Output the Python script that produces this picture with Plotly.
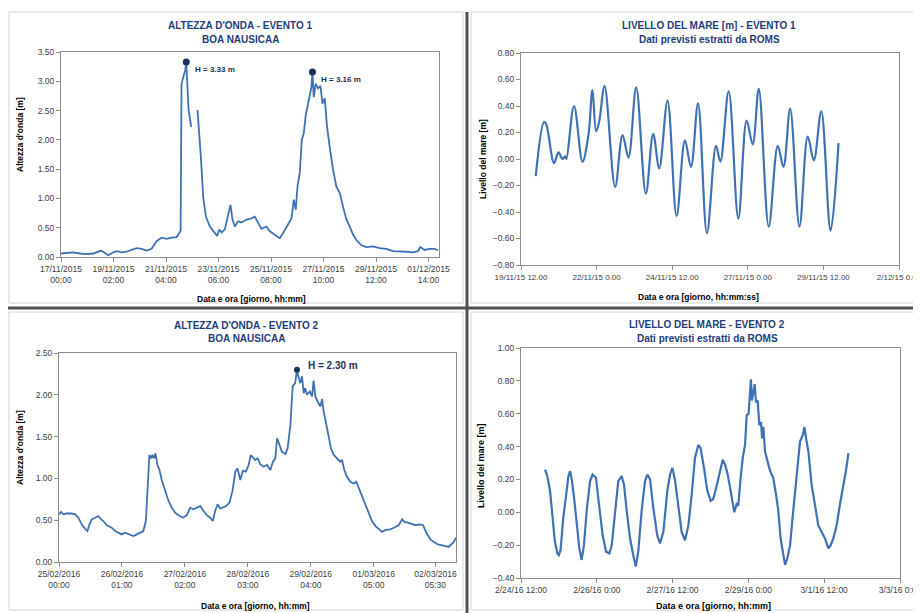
import pandas as pd
import plotly.graph_objects as go

# page body has an 8px margin, so the figure is drawn 8px in from the top-left
OFF = 8
W, H = 921 - OFF, 613 - OFF
FONT = "Liberation Sans Narrow, Liberation Sans, Arial"
LINE = "#3f72b5"
NAVY = "#1b2f5a"
TITLE = "#1f3d7a"

# ---- Evento 1: altezza d'onda, boa Nausicaa (ore dal 17/11/2015 00:00)
wave1_start = "2015-11-17 00:00"
wave1_hours = [0.0, 5.4, 11.7, 18.1, 24.4, 30.8, 35.5, 38.1, 41.9, 45.0, 49.8, 53.0, 57.7, 62.5,
               67.2, 72.0, 76.8, 81.5, 86.3, 91.0, 95.8, 100.5, 105.3, 110.1, 112.6, 113.9, 114.8,
               115.8, 117.0, 118.3, 119.3, 120.2, 121.5, 122.7, 124.0, 127.0, 130.0, 131.3, 133.2,
               135.4, 138.0, 141.8, 146.5, 148.7, 150.7, 152.9, 156.0, 159.2, 161.4, 163.3, 165.6,
               168.7, 171.9, 176.7, 181.4, 184.6, 187.8, 190.9, 195.7, 198.9, 203.6, 208.4, 211.5,
               216.3, 219.5, 221.7, 223.6, 225.2, 227.4, 229.3, 231.2, 233.1, 235.3, 236.9, 238.5,
               239.5, 240.7, 242.6, 244.8, 247.1, 249.0, 251.2, 253.4, 255.9, 259.1, 262.3, 265.5,
               268.6, 271.8, 275.0, 278.2, 281.3, 286.1, 290.8, 297.2, 303.5, 309.9, 316.2, 322.6,
               328.9, 335.2, 340.0, 342.2, 346.3, 351.1, 355.9, 359.0]
wave1_m = [0.06, 0.07, 0.08, 0.06, 0.05, 0.06, 0.09, 0.11, 0.07, 0.03, 0.08, 0.10, 0.08, 0.09,
           0.12, 0.15, 0.14, 0.11, 0.14, 0.27, 0.33, 0.31, 0.33, 0.34, 0.41, 0.45, 2.96,
           3.02, 3.10, 3.19, 3.33, 2.90, 2.51, 2.37, 2.22, None, 2.51, 2.22, 1.71,
           1.03, 0.69, 0.52, 0.41, 0.36, 0.47, 0.42, 0.47, 0.75, 0.89, 0.64, 0.52,
           0.61, 0.59, 0.64, 0.66, 0.69, 0.58, 0.48, 0.52, 0.44, 0.38, 0.32, 0.41,
           0.55, 0.66, 0.98, 0.81, 1.20, 1.43, 2.00, 2.11, 2.42, 2.62, 2.73, 2.90,
           3.16, 2.73, 2.96, 2.88, 2.92, 2.62, 2.71, 2.22, 1.88, 1.49, 1.20, 1.09,
           0.86, 0.64, 0.52, 0.38, 0.29, 0.20, 0.17, 0.18, 0.15, 0.14, 0.10, 0.10,
           0.09, 0.08, 0.10, 0.17, 0.12, 0.14, 0.14, 0.11]
wave1_peak_hours = [119.3, 239.5]
wave1_peak_m = [3.33, 3.16]
wave1_ticks = ["17/11/2015 00:00", "19/11/2015 02:00", "21/11/2015 04:00", "23/11/2015 06:00",
               "25/11/2015 08:00", "27/11/2015 10:00", "29/11/2015 12:00", "01/12/2015 14:00"]
wave1_range = ["2015-11-17 00:00", "2015-12-02 00:00"]

# ---- Evento 1: livello del mare, ROMS (ore dal 19/11/2015 12:00)
sea1_start = "2015-11-19 12:00"
sea1_hours = [11.7, 18.3, 20.1, 26.2, 29.7, 32.9, 35.0, 36.0, 42.1, 48.8, 53.5, 56.7, 59.6, 62.0,
              66.3, 74.7, 80.6, 85.3, 91.4, 99.1, 104.9, 109.7, 116.3, 123.5, 130.1, 134.9,
              140.5, 147.6, 154.8, 158.2, 164.8, 172.5, 179.1, 183.9, 188.7, 196.6, 203.8,
              208.3, 213.6, 221.0, 227.6, 232.4, 238.3, 245.7, 252.0]
sea1_m = [-0.13, 0.28, 0.26, -0.03, 0.05, 0.00, 0.02, 0.00, 0.40, -0.02, 0.18, 0.52, 0.21, 0.28,
          0.55, -0.21, 0.18, 0.01, 0.54, -0.26, 0.19, -0.07, 0.44, -0.43, 0.14, -0.06,
          0.42, -0.56, 0.10, -0.02, 0.51, -0.45, 0.29, 0.11, 0.53, -0.51, 0.10,
          -0.06, 0.38, -0.51, 0.17, -0.01, 0.36, -0.54, 0.12]
sea1_ticks = ["19/11/15 12.00", "22/11/15 0.00", "24/11/15 12.00", "27/11/15 0.00",
              "29/11/15 12.00", "2/12/15 0.00"]
sea1_range = ["2015-11-19 12:00", "2015-12-02 00:00"]

# ---- Evento 2: altezza d'onda, boa Nausicaa (ore dal 25/02/2016 00:00)
wave2_start = "2016-02-25 00:00"
wave2_hours = [0.0, 0.8, 1.7, 3.0, 5.0, 6.4, 7.7, 9.0, 10.3, 11.3, 12.1, 13.0, 14.3, 15.6, 16.7,
               17.6, 19.0, 20.9, 22.3, 23.6, 24.9, 26.2, 27.6, 29.6, 30.9, 32.2, 33.5, 34.5,
               35.3, 35.9, 36.5, 37.1, 37.8, 38.3, 39.1, 39.9, 40.8, 42.2, 43.5, 44.8, 46.1,
               47.5, 49.2, 50.8, 52.1, 53.4, 54.7, 56.1, 57.4, 58.7, 60.0, 61.1, 62.0, 63.0,
               64.0, 65.1, 66.4, 67.7, 68.9, 70.0, 70.9, 72.0, 73.0, 74.2, 75.3, 76.2, 77.0,
               77.9, 78.9, 79.9, 81.3, 82.6, 83.9, 85.0, 85.9, 86.6, 87.6, 88.5, 89.9, 90.8,
               91.9, 92.8, 93.8, 94.5, 95.2, 95.8, 96.5, 97.2, 97.8, 98.5, 99.6, 100.5, 101.1,
               101.8, 102.7, 103.8, 104.5, 105.1, 106.2, 107.1, 108.0, 109.1, 110.4, 111.7,
               112.4, 113.3, 114.4, 115.7, 117.0, 118.1, 119.0, 120.4, 121.7, 123.0, 124.3,
               125.7, 127.0, 128.3, 129.6, 131.4, 133.0, 134.9, 136.3, 137.2, 138.5, 140.2,
               141.6, 143.3, 144.6, 145.9, 147.5, 148.9, 150.5, 152.2, 153.5, 154.8, 155.8,
               156.8, 157.6]
wave2_m = [0.57, 0.60, 0.57, 0.58, 0.58, 0.57, 0.53, 0.45, 0.40, 0.37, 0.45, 0.51, 0.53, 0.55, 0.51,
           0.49, 0.44, 0.41, 0.37, 0.35, 0.33, 0.35, 0.33, 0.31, 0.33, 0.35, 0.37, 0.49,
           0.93, 1.28, 1.24, 1.28, 1.24, 1.30, 1.16, 1.10, 0.98, 0.85, 0.73, 0.65, 0.59,
           0.56, 0.53, 0.56, 0.65, 0.63, 0.65, 0.67, 0.61, 0.56, 0.53, 0.49, 0.61, 0.69,
           0.64, 0.65, 0.67, 0.71, 0.85, 1.08, 1.12, 0.98, 1.09, 1.08, 1.16, 1.28, 1.25,
           1.22, 1.24, 1.17, 1.14, 1.16, 1.10, 1.20, 1.24, 1.48, 1.40, 1.32, 1.29, 1.36,
           1.64, 2.10, 2.14, 2.30, 2.20, 2.14, 2.22, 2.02, 2.08, 2.00, 2.04, 1.98, 2.17,
           1.98, 1.92, 1.86, 1.95, 1.80, 1.64, 1.48, 1.36, 1.28, 1.24, 1.20,
           1.22, 1.10, 1.02, 0.96, 0.94, 0.96, 0.89, 0.79, 0.69, 0.59, 0.49,
           0.43, 0.39, 0.36, 0.38, 0.39, 0.41, 0.44, 0.51, 0.48, 0.47, 0.45,
           0.44, 0.45, 0.44, 0.35, 0.27, 0.24, 0.21, 0.20, 0.19, 0.18, 0.21,
           0.24, 0.29]
wave2_peak_hours = [94.5]
wave2_peak_m = [2.30]
wave2_ticks = ["25/02/2016 00:00", "26/02/2016 01:00", "27/02/2016 02:00", "28/02/2016 03:00",
               "29/02/2016 04:00", "01/03/2016 05:00", "02/03/2016 05:30"]
wave2_range = ["2016-02-25 00:00", "2016-03-02 13:40"]

# ---- Evento 2: livello del mare, ROMS (ore dal 24/02/2016 12:00)
sea2_start = "2016-02-24 12:00"
sea2_hours = [11.4, 12.5, 13.8, 15.0, 16.1, 17.3, 18.0, 18.8, 20.1, 21.4, 22.5, 23.3, 24.1, 25.2,
              26.4, 27.7, 28.8, 29.9, 31.2, 32.8, 34.0, 35.6, 37.2, 38.8, 40.4, 42.0, 43.1,
              44.6, 46.2, 47.8, 48.9, 50.2, 51.8, 53.3, 54.5, 55.7, 57.3, 58.9, 60.0, 61.3,
              62.8, 64.7, 66.0, 67.6, 69.5, 70.8, 71.9, 73.1, 74.7, 76.3, 77.9, 79.5, 81.1,
              82.6, 84.2, 85.3, 86.9, 88.5, 90.1, 91.3, 92.9, 94.5, 95.8, 96.9, 98.0, 99.3,
              100.5, 101.3, 102.4, 103.2, 104.3, 105.3, 106.4, 107.2, 108.1, 108.8, 109.2,
              109.7, 110.3, 111.0, 111.6, 112.4, 113.2, 114.0, 114.5, 115.1, 115.9, 117.0,
              117.9, 119.0, 119.8, 121.1, 122.2, 123.3, 124.3, 125.4, 126.5, 127.8, 129.0,
              130.1, 131.2, 132.5, 133.8, 134.6, 135.4, 136.5, 138.0, 139.6, 141.2, 142.8,
              144.4, 146.0, 147.1, 148.3, 149.9, 151.5, 153.1, 154.3, 155.5]
sea2_m = [0.26, 0.22, 0.13, -0.03, -0.18, -0.25, -0.26, -0.23, -0.03, 0.10, 0.22, 0.25, 0.20, 0.09,
          -0.08, -0.22, -0.29, -0.20, 0.01, 0.19, 0.23, 0.21, 0.03, -0.14, -0.24, -0.25, -0.20,
          0.01, 0.19, 0.22, 0.17, 0.01, -0.16, -0.26, -0.33, -0.24, 0.01, 0.19, 0.23, 0.20,
          0.03, -0.14, -0.19, -0.12, 0.13, 0.23, 0.27, 0.20, 0.03, -0.12, -0.17, -0.08, 0.11,
          0.33, 0.41, 0.39, 0.27, 0.13, 0.07, 0.08, 0.16, 0.25, 0.32, 0.29, 0.24, 0.15,
          0.05, 0.00, 0.05, 0.04, 0.21, 0.33, 0.41, 0.59, 0.60, 0.76, 0.81,
          0.68, 0.73, 0.78, 0.67, 0.68, 0.53, 0.55, 0.45, 0.52, 0.37, 0.31,
          0.27, 0.23, 0.21, 0.11, 0.01, -0.16, -0.24, -0.32, -0.28, -0.20, -0.03,
          0.13, 0.29, 0.43, 0.47, 0.52, 0.45, 0.37, 0.17, 0.03, -0.08, -0.12,
          -0.16, -0.22, -0.20, -0.16, -0.08, 0.05, 0.16, 0.25, 0.36]
sea2_ticks = ["2/24/16 12:00", "2/26/16 0:00", "2/27/16 12:00", "2/29/16 0:00",
              "3/1/16 12:00", "3/3/16 0:00"]
sea2_range = ["2016-02-24 12:00", "2016-03-03 00:00"]


def to_time(start, hours):
    return pd.Timestamp(start) + pd.to_timedelta(hours, unit="h")


# page pixel -> paper fraction
def px(x):
    return (x - OFF) / W


def py(y):
    return 1 - (y - OFF) / H


fig = go.Figure()

panels = [
    # (xaxis, yaxis, start, hours, values, spline, width)
    ("x", "y", wave1_start, wave1_hours, wave1_m, False, 1.8),
    ("x2", "y2", sea1_start, sea1_hours, sea1_m, True, 2.2),
    ("x3", "y3", wave2_start, wave2_hours, wave2_m, False, 1.8),
    ("x4", "y4", sea2_start, sea2_hours, sea2_m, False, 2.2),
]
for xa, ya, start, hrs, vals, smooth, lw in panels:
    fig.add_trace(go.Scatter(
        x=to_time(start, hrs), y=vals, xaxis=xa, yaxis=ya, mode="lines",
        line=dict(color=LINE, width=lw, shape="spline" if smooth else "linear"),
        connectgaps=False, hoverinfo="skip"
    ))

# peak markers
fig.add_trace(go.Scatter(x=to_time(wave1_start, wave1_peak_hours), y=wave1_peak_m,
                         xaxis="x", yaxis="y", mode="markers",
                         marker=dict(color=NAVY, size=7)))
fig.add_trace(go.Scatter(x=to_time(wave2_start, wave2_peak_hours), y=wave2_peak_m,
                         xaxis="x3", yaxis="y3", mode="markers",
                         marker=dict(color=NAVY, size=6)))

axis_common = dict(showline=True, linecolor="#8c8c8c", linewidth=1, mirror=True,
                   ticks="outside", ticklen=4, tickcolor="#8c8c8c", showgrid=False,
                   zeroline=False, automargin=False, ticklabeloverflow="allow")


def xaxis_cfg(dom, ticks, fmt, rng, two_lines, size=8.5):
    vals = [pd.to_datetime(t, format=fmt) for t in ticks]
    text = [t.replace(" ", "<br>") if two_lines else t for t in ticks]
    return dict(domain=dom, type="date", range=rng, tickmode="array", tickvals=vals,
                ticktext=text, tickfont=dict(family=FONT, size=size, color="#404040"),
                **axis_common)


def yaxis_cfg(dom, rng, dtick, anchor):
    return dict(domain=dom, range=rng, dtick=dtick, tick0=rng[0], tickformat=".2f",
                anchor=anchor, tickfont=dict(family=FONT, size=8.5, color="#404040"),
                **axis_common)


fig.update_layout(
    template="none",
    width=W, height=H, margin=dict(l=0, r=0, t=0, b=0, pad=0),
    paper_bgcolor="white", plot_bgcolor="white", showlegend=False,
    font=dict(family=FONT, size=9, color="#404040"),
    xaxis=dict(xaxis_cfg([px(61), px(439)], wave1_ticks, "%d/%m/%Y %H:%M", wave1_range, True), anchor="y"),
    yaxis=yaxis_cfg([py(257), py(52)], [0, 3.5], 0.5, "x"),
    xaxis2=dict(xaxis_cfg([px(521), px(899)], sea1_ticks, "%d/%m/%y %H.%M", sea1_range, False, 8), anchor="y2"),
    yaxis2=yaxis_cfg([py(265), py(53)], [-0.8, 0.8], 0.2, "x2"),
    xaxis3=dict(xaxis_cfg([px(59), px(456)], wave2_ticks, "%d/%m/%Y %H:%M", wave2_range, True), anchor="y3"),
    yaxis3=yaxis_cfg([py(562), py(353)], [0, 2.5], 0.5, "x3"),
    xaxis4=dict(xaxis_cfg([px(521), px(900)], sea2_ticks, "%m/%d/%y %H:%M", sea2_range, False), anchor="y4"),
    yaxis4=yaxis_cfg([py(578), py(348)], [-0.4, 1.0], 0.2, "x4"),
)

# chart frames and separators
shapes = []
for x0, y0, x1, y1 in [(9, 12, 463, 303), (471, 12, 921, 303), (9, 312, 463, 610), (471, 312, 921, 610)]:
    shapes.append(dict(type="rect", xref="paper", yref="paper", x0=px(x0), x1=px(x1),
                       y0=py(y1), y1=py(y0), line=dict(color="#d4d4d4", width=1)))
shapes.append(dict(type="line", xref="paper", yref="paper", x0=px(467), x1=px(467),
                   y0=py(613), y1=py(12), line=dict(color="#505050", width=3)))
shapes.append(dict(type="line", xref="paper", yref="paper", x0=0, x1=1,
                   y0=py(308), y1=py(308), line=dict(color="#505050", width=3)))
fig.update_layout(shapes=shapes)


def note(text, x, y, size=8.5, color="black", bold=True, angle=0):
    fig.add_annotation(text=f"<b>{text}</b>" if bold else text, x=px(x), y=py(y),
                       xref="paper", yref="paper", showarrow=False, textangle=angle,
                       font=dict(family=FONT, size=size, color=color),
                       xanchor="center", yanchor="middle")


# titles
note("ALTEZZA D'ONDA - EVENTO 1", 240, 26, 10, TITLE)
note("BOA NAUSICAA", 240, 40, 10, TITLE)
note("LIVELLO DEL MARE [m] - EVENTO 1", 709, 25, 10, TITLE)
note("Dati previsti estratti da ROMS", 709, 39, 10, TITLE)
note("ALTEZZA D'ONDA - EVENTO 2", 246, 325, 10, TITLE)
note("BOA NAUSICAA", 246, 338, 10, TITLE)
note("LIVELLO DEL MARE - EVENTO 2", 707, 324, 10, TITLE)
note("Dati previsti estratti da ROMS", 707, 338, 10, TITLE)

# axis titles
note("Data e ora [giorno, hh:mm]", 251, 299)
note("Data e ora [giorno, hh:mm:ss]", 698, 297)
note("Data e ora [giorno, hh:mm]", 255, 606)
note("Data e ora [giorno, hh:mm]", 713, 606, 9)
note("Altezza d'onda [m]", 20, 135, angle=-90)
note("Livello del mare [m]", 483, 159, angle=-90)
note("Altezza d'onda [m]", 20, 448, angle=-90)
note("Livello del mare [m]", 481, 466, 9, angle=-90)

# peak labels
for hrs, val in zip(wave1_peak_hours, wave1_peak_m):
    fig.add_annotation(x=to_time(wave1_start, hrs), y=val, xref="x", yref="y",
                       text=f"<b>H = {val:.2f} m</b>", showarrow=False, xanchor="left",
                       yanchor="middle", xshift=7, yshift=-8,
                       font=dict(family=FONT, size=8, color=NAVY))
for hrs, val in zip(wave2_peak_hours, wave2_peak_m):
    fig.add_annotation(x=to_time(wave2_start, hrs), y=val, xref="x3", yref="y3",
                       text=f"<b>H = {val:.2f} m</b>", showarrow=False, xanchor="left",
                       yanchor="middle", xshift=9, yshift=4,
                       font=dict(family=FONT, size=10, color=NAVY))

fig.write_html("out.html")
